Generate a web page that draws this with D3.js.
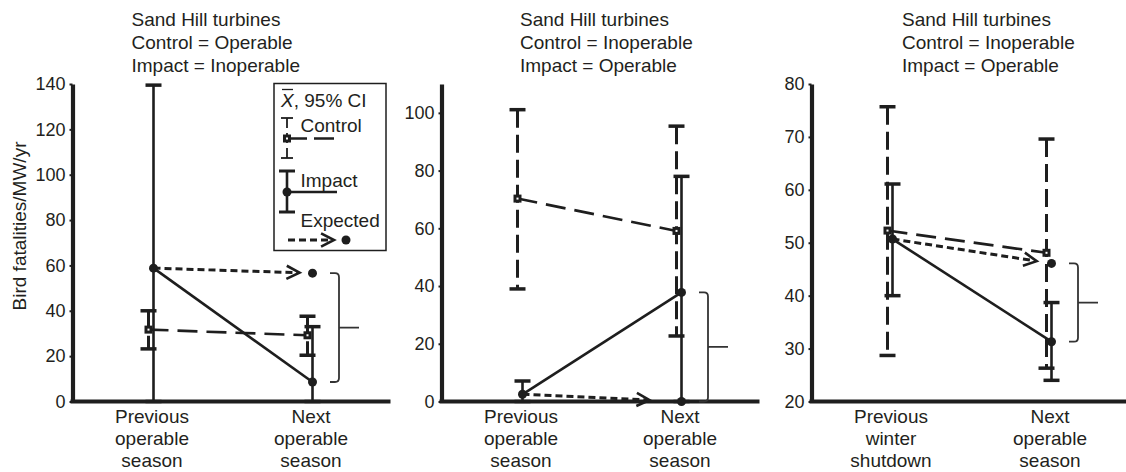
<!DOCTYPE html>
<html>
<head>
<meta charset="utf-8">
<script src="https://cdn.jsdelivr.net/npm/d3@7"></script>
<style>
  html, body { margin: 0; padding: 0; background: #fff; }
  svg { display: block; }
  text { font-family: "Liberation Sans", Arial, Helvetica, sans-serif; fill: #231f20; }
</style>
</head>
<body>
<svg id="chart" width="1126" height="472"></svg>
<script>
// ---------------- DATA ----------------
const panelTitles = [
  ["Sand Hill turbines", "Control = Operable", "Impact = Inoperable"],
  ["Sand Hill turbines", "Control = Inoperable", "Impact = Operable"],
  ["Sand Hill turbines", "Control = Inoperable", "Impact = Operable"]
];
const categories = [
  [["Previous", "operable", "season"], ["Next", "operable", "season"]],
  [["Previous", "operable", "season"], ["Next", "operable", "season"]],
  [["Previous", "winter", "shutdown"], ["Next", "operable", "season"]]
];
const yDomains = [[0, 140], [0, 110], [20, 80]];
const yTicks = [
  [0, 20, 40, 60, 80, 100, 120, 140],
  [0, 20, 40, 60, 80, 100],
  [20, 30, 40, 50, 60, 70, 80]
];
const yLabel = "Bird fatalities/MW/yr";

// control (dashed) : mean, lower 95% CI, upper 95% CI  [previous, next]
const controlMean = [[31.7, 29.2], [70.3, 59.1], [52.3, 48.1]];
const controlLow  = [[23.2, 20.4], [39.0, 22.7], [28.7, 26.3]];
const controlHigh = [[40.0, 37.6], [101.1, 95.4], [75.7, 69.6]];
// impact (solid)
const impactMean = [[58.8, 8.6], [2.5, 37.8], [50.7, 31.3]];
const impactLow  = [[0, 0], [0, 0], [40.0, 24.0]];
const impactHigh = [[139.5, 33.0], [7.1, 78.0], [61.1, 38.7]];
// expected value for impact in next season
const expectedNext = [56.6, 0, 46.1];

const legendTitle = ", 95% CI";
const legendItems = ["Control", "Impact", "Expected"];

// ---------------- LAYOUT ----------------
const panelX = [72.5, 441.5, 811.5];
const panelW = 318;
const plotTop = 84, plotBottom = 401.5;
const titleX = [131.5, 520, 902];
const arrowGap = [13, 32, 15];
const ink = "#1e1e1e";
const FS = 19;

const svg = d3.select("#chart");

function arrowHead(g, x1, y1, x2, y2) {
  const ang = Math.atan2(y2 - y1, x2 - x1);
  const L = 14.5, a = 0.47;
  const p = d3.path();
  p.moveTo(x2 - L * Math.cos(ang - a), y2 - L * Math.sin(ang - a));
  p.lineTo(x2, y2);
  p.lineTo(x2 - L * Math.cos(ang + a), y2 - L * Math.sin(ang + a));
  g.append("path").attr("d", p.toString()).attr("fill", "none")
    .attr("stroke", ink).attr("stroke-width", 2.6).attr("stroke-linejoin", "miter");
}

panelTitles.forEach((title, i) => {
  const g = svg.append("g");
  const x0 = panelX[i];
  const y = d3.scaleLinear().domain(yDomains[i]).range([plotBottom, plotTop]);
  const x = d3.scalePoint().domain([0, 1]).range([x0, x0 + panelW]).padding(0.5);
  const cx = k => x(k) - 3.5;   // control position
  const ix = k => x(k) + 1.5;   // impact position

  // title
  const t = g.append("text").attr("x", titleX[i]).attr("y", 26).attr("font-size", FS);
  title.forEach((line, j) => t.append("tspan").attr("x", titleX[i]).attr("y", 26 + j * 23).text(line));

  // y axis
  const ax = g.append("g").attr("transform", `translate(${x0},0)`)
    .call(d3.axisLeft(y).tickValues(yTicks[i]).tickSize(3).tickSizeOuter(0).tickPadding(4).tickFormat(d3.format("d")));
  ax.select(".domain").attr("stroke", ink).attr("stroke-width", 4.2);
  ax.selectAll(".tick line").attr("stroke", ink).attr("stroke-width", 2);
  ax.selectAll(".tick text").attr("font-size", 18).attr("fill", "#231f20")
    .attr("font-family", "Liberation Sans, Arial, sans-serif");

  // x axis
  g.append("line").attr("x1", x0 - 2).attr("x2", x0 + panelW)
    .attr("y1", plotBottom).attr("y2", plotBottom)
    .attr("stroke", ink).attr("stroke-width", 4.2);
  categories[i].forEach((lines, k) => {
    const tx = g.append("text").attr("text-anchor", "middle").attr("font-size", FS);
    lines.forEach((ln, j) => tx.append("tspan").attr("x", x(k)).attr("y", 423 + j * 22.2).text(ln));
  });

  // bracket between expected and observed impact (next season)
  const yA = y(expectedNext[i]), yB = y(impactMean[i][1]);
  const yt = Math.min(yA, yB), yb = Math.max(yA, yB);
  const bx = x(1) + 28, tipX = x(1) + 19, stubX = x(1) + 48, r = 4;
  const bp = d3.path();
  bp.moveTo(tipX, yt); bp.lineTo(bx - r, yt); bp.quadraticCurveTo(bx, yt, bx, yt + r);
  bp.lineTo(bx, yb - r); bp.quadraticCurveTo(bx, yb, bx - r, yb); bp.lineTo(tipX, yb);
  bp.moveTo(bx, (yt + yb) / 2); bp.lineTo(stubX, (yt + yb) / 2);
  g.append("path").attr("d", bp.toString()).attr("fill", "none")
    .attr("stroke", "#333").attr("stroke-width", 1.8);

  // control series
  [0, 1].forEach(k => {
    g.append("line").attr("x1", cx(k)).attr("x2", cx(k))
      .attr("y1", y(controlHigh[i][k])).attr("y2", y(controlLow[i][k]))
      .attr("stroke", ink).attr("stroke-width", 3).attr("stroke-dasharray", "18,7");
    [controlHigh[i][k], controlLow[i][k]].forEach(v => {
      g.append("line").attr("x1", cx(k) - 8).attr("x2", cx(k) + 8)
        .attr("y1", y(v)).attr("y2", y(v)).attr("stroke", ink).attr("stroke-width", 3.5);
    });
  });
  g.append("line").attr("x1", cx(0)).attr("x2", cx(1))
    .attr("y1", y(controlMean[i][0])).attr("y2", y(controlMean[i][1]))
    .attr("stroke", ink).attr("stroke-width", 2.6).attr("stroke-dasharray", "20,9");
  [0, 1].forEach(k => {
    g.append("rect").attr("x", cx(k) - 4).attr("y", y(controlMean[i][k]) - 4)
      .attr("width", 8).attr("height", 8).attr("fill", ink);
    g.append("rect").attr("x", cx(k) - 1).attr("y", y(controlMean[i][k]) - 1)
      .attr("width", 2).attr("height", 2).attr("fill", "#fff");
  });

  // impact series
  [0, 1].forEach(k => {
    g.append("line").attr("x1", ix(k)).attr("x2", ix(k))
      .attr("y1", y(impactHigh[i][k])).attr("y2", y(impactLow[i][k]))
      .attr("stroke", ink).attr("stroke-width", 2.6);
    [impactHigh[i][k], impactLow[i][k]].forEach(v => {
      g.append("line").attr("x1", ix(k) - 8).attr("x2", ix(k) + 8)
        .attr("y1", y(v)).attr("y2", y(v)).attr("stroke", ink).attr("stroke-width", 3.5);
    });
  });
  g.append("line").attr("x1", ix(0)).attr("x2", ix(1))
    .attr("y1", y(impactMean[i][0])).attr("y2", y(impactMean[i][1]))
    .attr("stroke", ink).attr("stroke-width", 2.6);
  [0, 1].forEach(k => {
    g.append("circle").attr("cx", ix(k)).attr("cy", y(impactMean[i][k])).attr("r", 4.5).attr("fill", ink);
  });

  // expected
  const ex0 = ix(0), ey0 = y(impactMean[i][0]);
  const ex1 = ix(1), ey1 = y(expectedNext[i]);
  const len = Math.hypot(ex1 - ex0, ey1 - ey0);
  const f = (len - arrowGap[i]) / len;
  const ax2 = ex0 + (ex1 - ex0) * f, ay2 = ey0 + (ey1 - ey0) * f;
  g.append("line").attr("x1", ex0).attr("y1", ey0).attr("x2", ax2 - 2 * (ex1 - ex0) / len).attr("y2", ay2 - 2 * (ey1 - ey0) / len)
    .attr("stroke", ink).attr("stroke-width", 3).attr("stroke-dasharray", "7,4");
  arrowHead(g, ex0, ey0, ax2, ay2);
  g.append("circle").attr("cx", ex1).attr("cy", ey1).attr("r", 4.5).attr("fill", ink);
});

// y-axis label
svg.append("text").attr("transform", "translate(26,226) rotate(-90)")
  .attr("text-anchor", "middle").attr("font-size", FS).text(yLabel);

// ---------------- LEGEND (panel 1) ----------------
const lg = svg.append("g");
lg.append("rect").attr("x", 274).attr("y", 83.5).attr("width", 112).attr("height", 167)
  .attr("fill", "#fff").attr("stroke", ink).attr("stroke-width", 1.5);
const lt = lg.append("text").attr("x", 281).attr("y", 107).attr("font-size", FS);
lt.append("tspan").attr("font-style", "italic").text("X");
lt.append("tspan").text(legendTitle);
lg.append("line").attr("x1", 282).attr("x2", 293).attr("y1", 89.5).attr("y2", 89.5)
  .attr("stroke", ink).attr("stroke-width", 1.3);
// control
const lcx = 287;
lg.append("line").attr("x1", lcx).attr("x2", lcx).attr("y1", 118).attr("y2", 158)
  .attr("stroke", ink).attr("stroke-width", 1.8).attr("stroke-dasharray", "10,5");
[118, 158].forEach(v => lg.append("line").attr("x1", lcx - 6).attr("x2", lcx + 6)
  .attr("y1", v).attr("y2", v).attr("stroke", ink).attr("stroke-width", 1.8));
lg.append("line").attr("x1", lcx).attr("x2", 337).attr("y1", 138.5).attr("y2", 138.5)
  .attr("stroke", ink).attr("stroke-width", 2.6).attr("stroke-dasharray", "20,7");
lg.append("rect").attr("x", lcx - 4).attr("y", 134.5).attr("width", 8).attr("height", 8).attr("fill", ink);
lg.append("rect").attr("x", lcx - 1).attr("y", 137.5).attr("width", 2).attr("height", 2).attr("fill", "#fff");
lg.append("text").attr("x", 300.5).attr("y", 132).attr("font-size", FS).text(legendItems[0]);
// impact
lg.append("line").attr("x1", lcx).attr("x2", lcx).attr("y1", 171).attr("y2", 212)
  .attr("stroke", ink).attr("stroke-width", 2.6);
[171, 212].forEach(v => lg.append("line").attr("x1", lcx - 8).attr("x2", lcx + 8)
  .attr("y1", v).attr("y2", v).attr("stroke", ink).attr("stroke-width", 3));
lg.append("line").attr("x1", lcx).attr("x2", 337).attr("y1", 192).attr("y2", 192)
  .attr("stroke", ink).attr("stroke-width", 2.6);
lg.append("circle").attr("cx", lcx).attr("cy", 192).attr("r", 4.5).attr("fill", ink);
lg.append("text").attr("x", 300.5).attr("y", 187).attr("font-size", FS).text(legendItems[1]);
// expected
lg.append("text").attr("x", 300.5).attr("y", 227).attr("font-size", FS).text(legendItems[2]);
lg.append("line").attr("x1", 288).attr("x2", 332).attr("y1", 240).attr("y2", 240)
  .attr("stroke", ink).attr("stroke-width", 3).attr("stroke-dasharray", "7,4");
arrowHead(lg, 288, 240, 334, 240);
lg.append("circle").attr("cx", 346).attr("cy", 240).attr("r", 4.5).attr("fill", ink);
</script>
</body>
</html>
